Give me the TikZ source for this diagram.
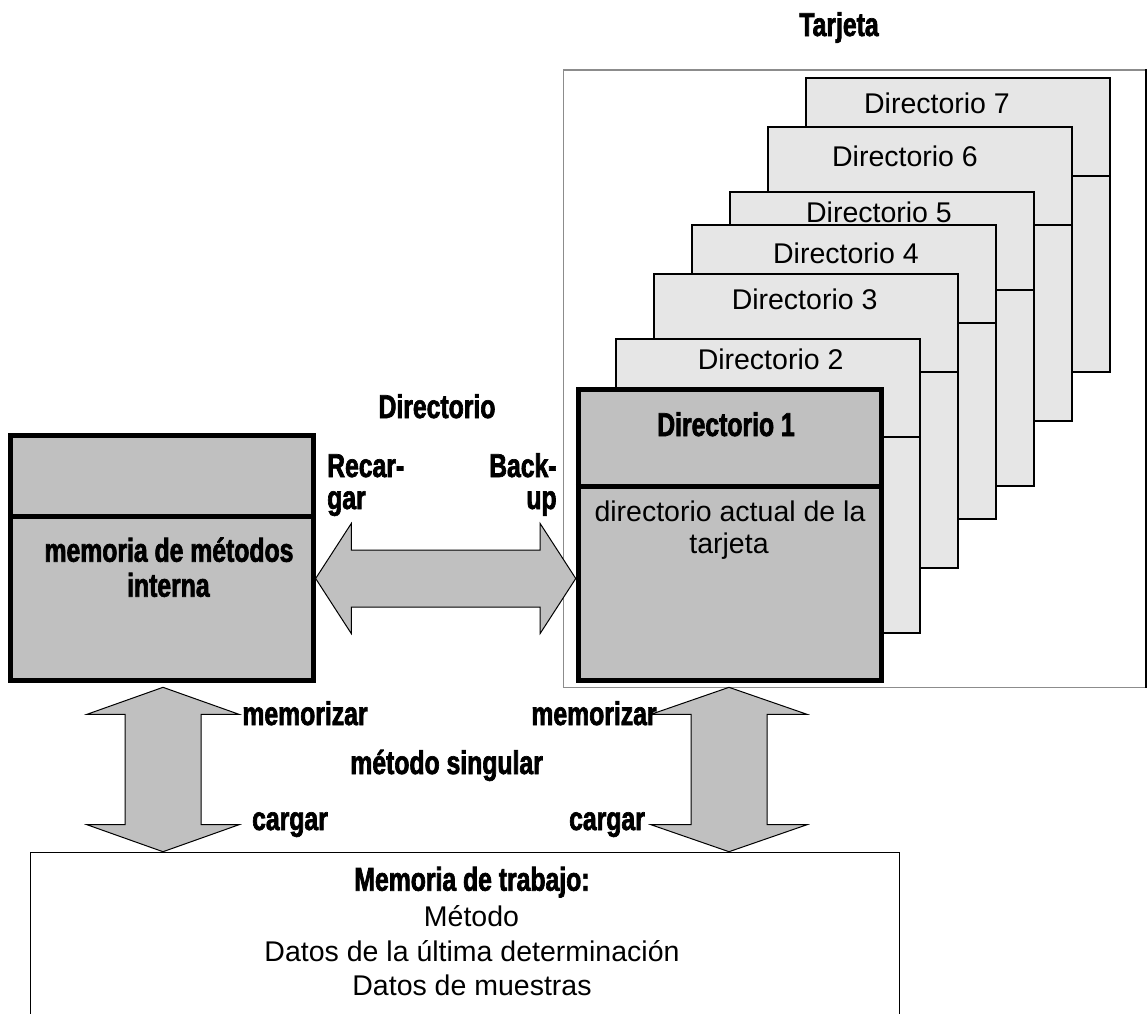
\documentclass[tikz,border=0pt]{standalone}
\usepackage{fontspec}
\setmainfont{Liberation Sans}
\newfontfamily\impfont{Liberation Sans Bold}[FakeStretch=0.75,FakeBold=2]
\usetikzlibrary{calc}
\definecolor{boxgray}{HTML}{C0C0C0}
\definecolor{dirgray}{HTML}{E6E6E6}
\definecolor{framegray}{HTML}{8C8C8C}
\tikzset{
  thickbox/.style={rectangle, draw=black, line width=5pt, fill=boxgray, inner sep=0pt},
  dirbox/.style={rectangle, draw=black, line width=1.2pt, fill=dirgray, inner sep=0pt},
  dirline/.style={draw=black, line width=1.2pt},
  thickline/.style={draw=black, line width=5pt},
  barrow/.style={draw=black, line width=1pt, fill=boxgray, line join=miter},
  lite/.style={font=\fontsize{28.5}{34}\selectfont, inner sep=0pt, anchor=base},
  heavy/.style={font=\impfont\fontsize{33}{38}\selectfont, inner sep=0pt, anchor=base},
}
\begin{document}
\begin{tikzpicture}[x=1pt,y=-1pt]
\useasboundingbox (0,0) rectangle (1147,1013);

% card frame
\node[rectangle, draw=framegray, line width=1.2pt, minimum width=581.5pt, minimum height=617.3pt, inner sep=0pt] (card) at (854.55,378.65) {};
\draw[line width=1.2pt] (card.north east) -- (card.south east);
\node[heavy] (tarjeta) at (839,36) {Tarjeta};

% directories 7..2
\foreach \n/\l/\t/\lx/\ly in {7/806/78/937/113.3, 6/768/127/905/166.7, 5/730/192/879/222.7, 4/692/225/846/263.3, 3/654/274/804.6/309, 2/616/339/770.6/369}{
  \node[dirbox, minimum width=304pt, minimum height=294pt] (d\n) at (\l+152,\t+147) {};
  \draw[dirline] (d\n.west |- 0,\t+98) -- (d\n.east |- 0,\t+98);
  \node[lite] (d\n lab) at (\lx,\ly) {Directorio \n};
}

% directory 1
\node[thickbox, minimum width=303.5pt, minimum height=291.6pt] (d1) at (730,535) {};
\draw[thickline] (d1.west |- 0,486) -- (d1.east |- 0,486);
\node[heavy] (d1lab) at (726,436) {Directorio 1};
\node[lite] (d1txt1) at (730,521.7) {directorio actual de la};
\node[lite] (d1txt2) at (729,553) {tarjeta};

% internal method memory
\node[thickbox, minimum width=302.3pt, minimum height=245pt] (mem) at (162,558.3) {};
\draw[thickline] (mem.west |- 0,516.7) -- (mem.east |- 0,516.7);
\node[heavy] (mem1) at (169,561.7) {memoria de métodos};
\node[heavy] (mem2) at (168.4,596.7) {interna};

% working memory
\node[rectangle, draw=black, line width=1.2pt, minimum width=869.1pt, minimum height=170pt, inner sep=0pt] (work) at (465.05,937.3) {};
\node[heavy] (work1) at (472,890.7) {Memoria de trabajo:};
\node[lite] (work2) at (471.5,926.7) {Método};
\node[lite] (work3) at (472,961.7) {Datos de la última determinación};
\node[lite] (work4) at (472,995) {Datos de muestras};

% horizontal double arrow
\coordinate (hl) at (mem.east |- 0,578.5);
\coordinate (hr) at (d1.west |- 0,578.5);
\draw[barrow] (hl) -- ($(hl)+(35.6,-55)$) -- ($(hl)+(35.6,-28.5)$) -- ($(hr)+(-35.6,-28.5)$)
  -- ($(hr)+(-35.6,-55)$) -- (hr) -- ($(hr)+(-35.6,55)$) -- ($(hr)+(-35.6,28.5)$)
  -- ($(hl)+(35.6,28.5)$) -- ($(hl)+(35.6,55)$) -- cycle;
\node[heavy] (dirtop) at (437,418) {Directorio};
\node[heavy, anchor=base west] (recar1) at (327,477) {Recar-};
\node[heavy, anchor=base west] (recar2) at (327,509) {gar};
\node[heavy, anchor=base east] (back1) at (556.8,477) {Back-};
\node[heavy, anchor=base east] (back2) at (556.8,509) {up};

% left vertical double arrow
\coordinate (vlt) at ($(mem.south)+(1,4)$);
\coordinate (vlb) at (vlt |- work.north);
\draw[barrow] (vlt) -- ($(vlt)+(76,27)$) -- ($(vlt)+(38,27)$) -- ($(vlb)+(38,-27)$)
  -- ($(vlb)+(76,-27)$) -- (vlb) -- ($(vlb)+(-76,-27)$) -- ($(vlb)+(-38,-27)$)
  -- ($(vlt)+(-38,27)$) -- ($(vlt)+(-76,27)$) -- cycle;

% right vertical double arrow
\coordinate (vrt) at ($(d1.south)+(-1,4)$);
\coordinate (vrb) at (vrt |- work.north);
\draw[barrow] (vrt) -- ($(vrt)+(78,27)$) -- ($(vrt)+(38,27)$) -- ($(vrb)+(38,-27)$)
  -- ($(vrb)+(78,-27)$) -- (vrb) -- ($(vrb)+(-78,-27)$) -- ($(vrb)+(-38,-27)$)
  -- ($(vrt)+(-38,27)$) -- ($(vrt)+(-78,27)$) -- cycle;

\node[heavy] (memo1) at (305,725) {memorizar};
\node[heavy] (memo2) at (594,725) {memorizar};
\node[heavy] (single) at (446.6,774) {método singular};
\node[heavy] (carg1) at (290,830) {cargar};
\node[heavy] (carg2) at (607,830) {cargar};
\end{tikzpicture}
\end{document}
